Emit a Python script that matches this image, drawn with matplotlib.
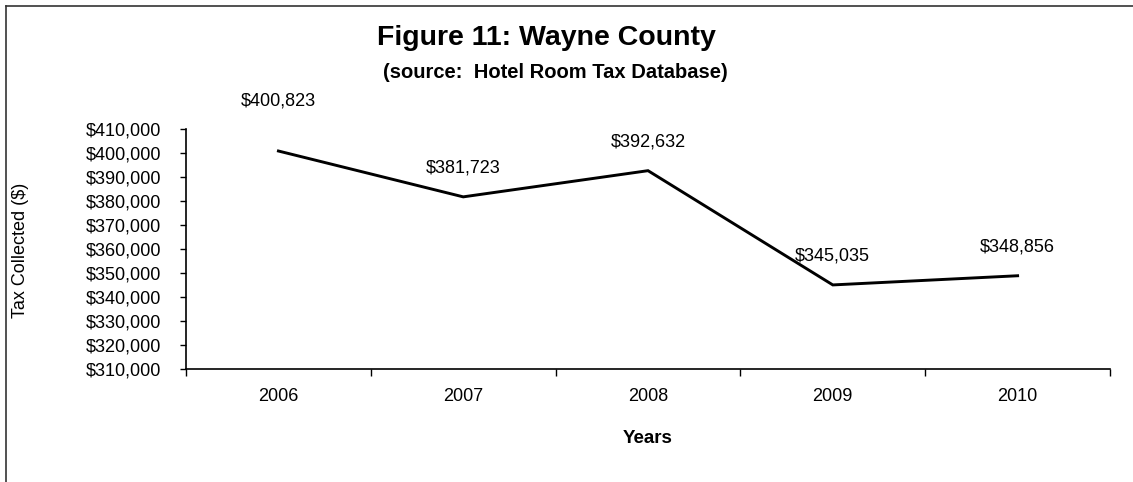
import matplotlib
matplotlib.use("Agg")
import matplotlib.pyplot as plt
from matplotlib.lines import Line2D
from matplotlib.ticker import FuncFormatter, FixedLocator

# Hotel room tax collected in Wayne County, by year
years = ["2006", "2007", "2008", "2009", "2010"]
tax_collected = [400823, 381723, 392632, 345035, 348856]
y_ticks = list(range(310000, 410001, 10000))

plt.rcParams["font.family"] = ["Liberation Sans", "DejaVu Sans"]

fig = plt.figure(figsize=(11.33, 4.82), dpi=100)
ax = fig.add_axes([0.1642, 0.2344, 0.8155, 0.498])

x = list(range(len(years)))
ax.plot(x, tax_collected, color="black", lw=2.1, solid_joinstyle="miter")

# value labels above each point
for i, v in enumerate(tax_collected):
    dy = 36 if i == 0 else 21
    ax.annotate(f"${v:,}", (i, v), xytext=(0, dy), textcoords="offset points",
                ha="center", va="center", fontsize=13)

ax.set_xlim(-0.5, len(years) - 0.5)
ax.set_ylim(310000, 410000)
ax.yaxis.set_major_locator(FixedLocator(y_ticks))
ax.yaxis.set_major_formatter(FuncFormatter(lambda v, p: f"${v:,.0f}"))
ax.tick_params(axis="y", length=4, width=1, labelsize=13, pad=14, direction="out")

# boundary ticks between categories, labels centered on categories
ax.xaxis.set_major_locator(FixedLocator([i - 0.5 for i in range(len(years) + 1)]))
ax.xaxis.set_major_formatter(FuncFormatter(lambda v, p: ""))
ax.set_xticks(x, minor=True)
ax.set_xticklabels(years, minor=True)
ax.tick_params(axis="x", which="major", length=5, width=1, direction="out")
ax.tick_params(axis="x", which="minor", length=0, labelsize=13, pad=14)

for s in ("top", "right"):
    ax.spines[s].set_visible(False)
for s in ("left", "bottom"):
    ax.spines[s].set_linewidth(1.2)
    ax.spines[s].set_color("black")

ax.set_xlabel("Years", fontsize=13.5, fontweight="bold", labelpad=18)
fig.text(0.018, 0.48, "Tax Collected ($)", rotation=90, fontsize=13,
         ha="center", va="center")

fig.text(0.482, 0.922, "Figure 11: Wayne County", fontsize=20.5, fontweight="bold",
         ha="center", va="center")
fig.text(0.49, 0.85, "(source:  Hotel Room Tax Database)", fontsize=14.5,
         fontweight="bold", ha="center", va="center")

# page frame lines at top and left
fig.add_artist(Line2D([6 / 1133, 1.0], [1 - 6 / 482, 1 - 6 / 482],
                      transform=fig.transFigure, color="#333333", lw=1.2))
fig.add_artist(Line2D([6 / 1133, 6 / 1133], [0.0, 1 - 6 / 482],
                      transform=fig.transFigure, color="#333333", lw=1.2))

fig.savefig("out.png", dpi=100)
